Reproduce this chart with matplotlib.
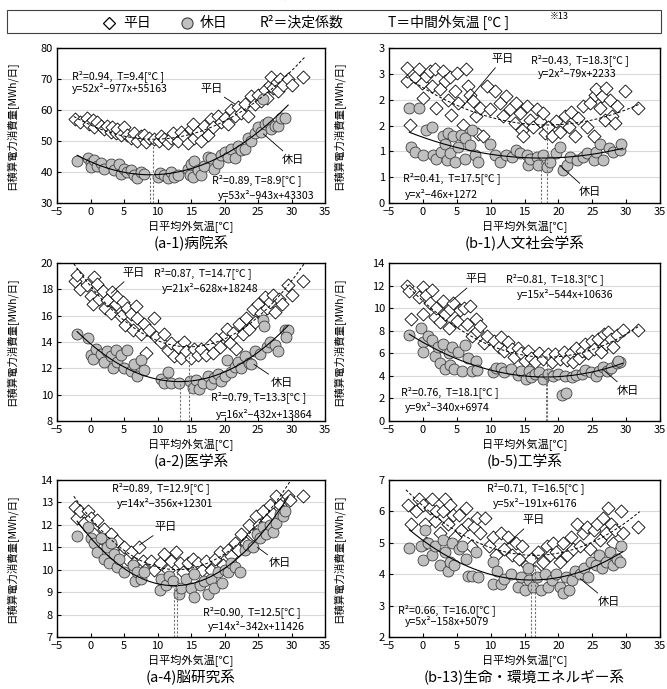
import numpy as np
import matplotlib.pyplot as plt
from matplotlib.patches import Rectangle
from matplotlib.lines import Line2D

plt.rcParams['font.family'] = ['Noto Sans CJK JP', 'DejaVu Sans']
plt.rcParams['font.size'] = 7.5

# ---- data: (outdoor temp [C], daily energy [MWh/day]) ----
a1_wd = [(-2.3, 57.2), (-1.5, 56), (-0.5, 57.5), (-0.2, 55.5), (0.3, 56.8), (0.5, 54.5), (1, 56), (1.5, 55),
         (2, 54), (2.5, 55), (3, 53), (3.2, 54.5), (3.8, 52.5), (4, 53.8), (4.5, 52), (5, 54.5), (5.5, 52),
         (6, 51), (6.5, 52.5), (7, 50), (7.5, 51.5), (8, 52), (8.3, 49.8), (8.8, 51), (9.5, 50.5), (10.2, 50),
         (10.5, 51.5), (11, 50.5), (11.5, 49.5), (12, 51), (12.3, 52.5), (13, 50), (13.5, 53), (14, 51.5),
         (14.5, 49.5), (15, 54), (15.3, 55.5), (15.5, 51), (16, 53), (16.5, 50), (17, 55), (17.5, 52), (18, 57),
         (18.3, 54.5), (19, 58), (19.5, 56), (20, 57.5), (20.5, 55.5), (21, 60), (21.5, 58), (22, 61), (22.5, 59),
         (23, 62), (23.5, 58), (24, 64.5), (24.5, 62), (25, 65), (25.5, 63), (26, 66.5), (26.3, 64), (26.8, 68),
         (27, 70.5), (27.3, 67), (27.8, 69), (28, 66), (28.3, 70), (28.7, 68), (29.5, 70), (30, 68), (31.7, 70.5)]
a1_hd = [(-2, 43.5), (-0.3, 44.5), (0, 43), (0, 41.5), (0.5, 44), (1, 42), (1.5, 43), (2, 41), (3, 42.5),
         (3.5, 40.5), (4.2, 42.5), (4.5, 39.5), (5, 41), (5.5, 40), (6, 40.5), (6.5, 39), (7, 38), (7.5, 40),
         (8, 39.5), (10, 38.5), (10.3, 39.8), (11, 39), (11.5, 38), (12, 40), (12.5, 38.5), (13, 39), (14.5, 41),
         (14.8, 39), (15, 42.5), (15.3, 38.5), (15.5, 43.5), (16, 40.5), (16.5, 39), (17, 42), (17.5, 45),
         (18, 44.5), (18.5, 41), (19, 43), (19.5, 45.5), (20, 46.5), (20.5, 45), (21, 47.5), (21.5, 44.5),
         (22, 48.5), (22.5, 47), (23, 47.5), (23.5, 51), (24, 50), (24.5, 52.5), (25, 54.5), (25.5, 53),
         (25.7, 63.5), (26, 55.5), (26.5, 56), (27, 54), (27.5, 55), (28, 55), (28.5, 57.5), (29, 57.5)]

b1_wd = [(-2.3, 2.62), (-2.4, 2.36), (-1.9, 1.51), (-1.2, 2.43), (-0.5, 2.59), (-0.2, 2.33), (0.0, 2.04),
         (0.5, 2.46), (1.0, 2.56), (1.3, 2.26), (1.8, 2.59), (2.0, 1.84), (2.5, 2.2), (3.0, 2.56), (3.2, 2.36),
         (3.7, 2.0), (4.0, 2.43), (4.2, 1.71), (4.7, 2.17), (5.0, 2.52), (5.2, 1.94), (5.9, 1.51), (6.4, 2.59),
         (6.7, 2.26), (6.9, 2.1), (7.4, 1.97), (7.9, 1.68), (8.2, 1.33), (8.4, 1.84), (8.9, 1.29), (9.4, 2.26),
         (9.9, 1.81), (10.6, 2.17), (11.4, 1.94), (11.9, 1.68), (12.3, 2.07), (12.8, 1.81), (13.6, 1.55),
         (13.8, 1.94), (14.3, 1.74), (14.6, 1.42), (14.8, 1.29), (15.3, 1.87), (15.8, 1.61), (16.3, 1.48),
         (16.8, 1.81), (17.3, 1.58), (17.8, 1.74), (18.0, 1.35), (18.5, 1.48), (19.0, 1.29), (19.7, 1.58),
         (20.2, 1.38), (21.0, 1.68), (21.5, 1.48), (21.9, 1.77), (22.4, 1.29), (22.9, 1.64), (23.7, 1.87),
         (24.2, 1.48), (24.7, 1.94), (25.2, 1.29), (25.4, 2.1), (25.6, 2.2), (26.1, 1.84), (26.4, 2.07),
         (26.9, 1.61), (27.1, 2.23), (27.6, 2.0), (27.9, 1.68), (28.4, 1.55), (28.6, 1.87), (29.8, 2.17), (31.8, 1.84)]
b1_hd = [(-2.1, 1.84), (-1.7, 1.09), (-1.2, 0.99), (-0.5, 1.84), (0.0, 0.93), (0.5, 1.42), (1.3, 1.48),
         (1.5, 0.93), (2.0, 0.86), (2.7, 0.99), (3.0, 1.29), (3.2, 1.15), (3.5, 0.83), (3.7, 1.35), (4.0, 0.96),
         (4.5, 1.29), (4.7, 0.8), (5.2, 1.09), (5.7, 1.32), (6.2, 1.25), (6.2, 0.86), (6.9, 1.12), (7.2, 1.42),
         (7.7, 0.93), (8.2, 0.8), (9.9, 1.15), (10.6, 0.93), (11.4, 0.8), (12.3, 0.93), (13.1, 0.89), (13.8, 1.02),
         (14.3, 0.96), (15.3, 0.93), (15.5, 0.73), (15.8, 0.86), (16.8, 0.89), (17.0, 0.73), (17.8, 0.93),
         (18.3, 0.7), (18.7, 0.8), (19.7, 0.96), (20.2, 1.09), (20.7, 0.63), (21.2, 0.73), (21.7, 0.89),
         (22.7, 0.83), (23.7, 0.89), (24.2, 0.96), (25.2, 0.83), (25.6, 0.99), (26.1, 1.15), (26.6, 0.83),
         (27.4, 1.06), (28.1, 0.99), (29.1, 1.02), (29.3, 1.15)]

a2_wd = [(-2.3, 18.6), (-2.0, 19.1), (-1.5, 18.0), (-0.5, 18.3), (0, 17.5), (0.3, 16.9), (0.5, 18.9), (1, 18.4),
         (1.3, 17.3), (1.8, 17.9), (2.2, 16.6), (2.5, 17.2), (3, 16.2), (3.2, 17.8), (3.8, 16.9), (4, 17.4),
         (4.5, 16.0), (4.8, 17.0), (5.2, 15.3), (5.5, 16.6), (6, 16.1), (6.3, 14.9), (6.8, 16.7), (7, 15.8),
         (7.5, 14.6), (8, 15.4), (8.3, 13.2), (8.7, 14.9), (9.5, 15.8), (9.8, 14.4), (10.5, 14.0), (11, 14.6),
         (11.5, 13.4), (12, 13.9), (12.5, 12.9), (13, 13.6), (13.5, 12.8), (14, 14.0), (14.3, 13.3), (15, 12.8),
         (15.5, 13.5), (16, 13.0), (16.5, 13.5), (17.3, 13.0), (17.8, 13.8), (18.3, 13.2), (18.8, 14.2),
         (19.3, 13.6), (20, 14.5), (20.4, 15.0), (20.8, 13.9), (21.3, 14.7), (21.7, 13.5), (22.2, 15.4),
         (22.7, 14.6), (23.2, 15.8), (23.7, 15.0), (24.2, 16.5), (24.6, 15.5), (25, 16.9), (25.5, 16.2),
         (26, 17.4), (26.4, 16.6), (26.8, 17.0), (27.2, 17.6), (27.6, 16.3), (28.2, 17.3), (28.6, 16.9),
         (29.5, 18.3), (30, 17.6), (31.7, 18.6)]
a2_hd = [(-2, 14.6), (-0.3, 14.3), (0, 13.0), (0.3, 12.7), (0.8, 13.5), (1.5, 13.1), (2, 12.5), (2.5, 13.3),
         (3, 12.9), (3.3, 12.0), (3.8, 13.4), (4, 12.5), (4.5, 13.0), (5, 12.0), (5.5, 13.4), (6, 11.8),
         (6.5, 12.3), (7, 11.4), (7.5, 12.6), (8, 11.9), (10.5, 11.2), (11, 10.9), (11.5, 11.7), (12, 10.9),
         (13.2, 10.9), (14.8, 11.0), (15.3, 10.5), (15.7, 11.1), (16.2, 10.4), (16.8, 10.9), (17.5, 11.4),
         (18, 10.8), (18.5, 11.3), (19, 11.6), (19.5, 11.0), (20, 11.4), (20.3, 12.6), (21, 11.7), (21.5, 12.1),
         (22, 12.5), (22.5, 12.0), (23, 12.9), (23.7, 12.4), (24, 12.3), (24.6, 13.3), (25.3, 13.1), (25.8, 15.7),
         (25.9, 15.2), (26.3, 13.6), (26.8, 14.0), (27.5, 13.8), (28, 13.3), (29, 14.9), (29.5, 14.9), (29.2, 14.4)]

b5_wd = [(-2.3, 12.0), (-2.0, 11.5), (-1.8, 9.0), (-0.5, 11.0), (0, 11.9), (0, 9.5), (0.5, 11.2), (1, 10.5),
         (1.3, 11.6), (1.8, 9.2), (2, 10.0), (2.5, 8.8), (3, 10.6), (3.3, 9.5), (3.8, 8.2), (4, 9.9), (4.5, 10.5),
         (5, 8.9), (5.5, 9.8), (6, 10.0), (6.5, 8.6), (7, 10.2), (7.2, 7.5), (7.8, 9.0), (8, 8.0), (8.5, 8.4),
         (9, 6.9), (9.5, 7.5), (10.5, 7.1), (11.2, 6.6), (11.5, 7.4), (12, 6.2), (12.5, 7.0), (13.2, 6.4),
         (13.5, 5.7), (14, 6.5), (14.5, 6.0), (15, 5.3), (15.5, 6.2), (16, 5.6), (16.5, 5.2), (17.2, 6.0),
         (17.8, 5.5), (18.5, 5.9), (19, 5.2), (19.5, 5.9), (20.2, 5.5), (20.8, 6.1), (21.3, 5.4), (21.8, 6.0),
         (22.2, 5.2), (22.6, 6.5), (23, 5.6), (23.5, 6.2), (24, 6.8), (24.4, 6.0), (24.9, 7.1), (25.3, 6.4),
         (25.8, 7.3), (26.3, 6.1), (26.7, 7.7), (27, 6.8), (27.3, 7.9), (27.8, 7.3), (28.1, 6.6), (28.6, 7.6),
         (29.6, 8.1), (31.7, 8.1)]
b5_hd = [(-2, 7.6), (-0.3, 8.2), (0, 7.0), (0, 6.1), (0.8, 7.5), (1.3, 7.2), (1.8, 5.8), (2.3, 6.6), (2.6, 5.1),
         (3, 6.8), (3.2, 4.6), (3.8, 6.0), (4, 5.0), (4.3, 6.6), (4.6, 4.6), (5.2, 6.1), (5.8, 4.4), (6.2, 6.7),
         (6.6, 5.6), (7.2, 4.4), (7.8, 5.3), (8, 4.5), (10.4, 4.3), (10.8, 4.7), (11.5, 4.7), (12, 4.3), (13, 4.6),
         (14, 4.1), (14.5, 4.4), (15.2, 3.7), (15.6, 4.4), (16, 3.9), (16.5, 4.2), (17.2, 4.3), (17.8, 3.7),
         (18.5, 4.2), (19.2, 4.0), (20, 4.2), (20.6, 2.3), (21.1, 2.5), (21, 4.0), (22, 3.9), (22.6, 4.1),
         (23.5, 4.2), (24, 4.5), (24.8, 4.3), (25.5, 4.0), (26, 4.4), (26.6, 4.8), (27.2, 4.4), (27.8, 4.7),
         (28.6, 5.1), (29.1, 5.2), (28.8, 5.3)]

a4_wd = [(-2.3, 12.8), (-2.0, 12.3), (-1.5, 12.6), (-1, 12.1), (-0.3, 12.6), (0, 12.3), (0.5, 11.6), (1, 12.2),
         (1.5, 11.4), (2, 11.8), (2.5, 11.3), (3, 11.6), (3.5, 11.0), (4, 11.3), (4.5, 10.7), (5, 11.0),
         (5.5, 10.5), (6, 10.8), (6.5, 10.3), (7.3, 11.0), (7.8, 10.4), (8.2, 10.0), (9, 10.4), (9.5, 10.0),
         (10.3, 10.3), (11, 10.7), (11.5, 10.0), (12, 10.4), (12.7, 10.8), (13.3, 10.3), (13.8, 9.9), (14.5, 10.3),
         (15.3, 10.5), (16, 10.3), (16.7, 10.0), (17.3, 10.4), (18, 10.0), (18.6, 10.5), (19.3, 10.8), (19.8, 10.2),
         (20.5, 10.9), (21, 10.6), (21.5, 11.2), (22, 10.9), (22.5, 11.6), (23.2, 11.2), (23.6, 12.0), (24.2, 11.6),
         (24.7, 12.4), (25.2, 12.0), (25.8, 12.6), (26.3, 12.2), (26.8, 12.9), (27.3, 12.5), (27.7, 13.3),
         (28.3, 12.9), (28.7, 12.6), (29.5, 13.3), (29.8, 13.1), (31.7, 13.3)]
a4_hd = [(-2, 11.5), (-0.3, 11.9), (0, 11.4), (0.5, 11.2), (1, 10.8), (1.5, 11.4), (2, 10.5), (2.5, 11.0),
         (2.8, 10.3), (3, 11.2), (3.5, 10.7), (4, 10.1), (4.3, 10.5), (5, 9.9), (6.3, 10.2), (6.7, 9.5), (7, 9.9),
         (7.5, 9.6), (8, 9.9), (10.3, 9.1), (10.5, 9.6), (11.3, 9.3), (11.7, 9.7), (12.3, 9.5), (13.2, 8.9),
         (13.5, 9.2), (14.3, 9.6), (15, 9.2), (15.5, 8.8), (15.5, 9.8), (16.3, 9.3), (17, 9.5), (17.5, 8.9),
         (18, 9.6), (18.5, 9.2), (19, 9.9), (19.6, 9.4), (20, 10.0), (20.5, 9.9), (21, 10.3), (21.5, 10.1),
         (22.3, 9.9), (23, 10.9), (23.5, 11.1), (24.3, 11.0), (24.8, 11.6), (25.3, 11.4), (25.8, 11.9),
         (26.2, 11.6), (26.8, 12.0), (27.3, 11.7), (27.7, 12.1), (28.3, 12.5), (28.8, 12.4), (29, 12.6)]

b13_wd = [(-2.2, 6.2), (-1.8, 5.6), (-1, 6.0), (-0.5, 6.4), (0, 6.2), (0.3, 5.6), (0.5, 5.0), (1, 6.1), (1.3, 6.4),
          (1.8, 5.7), (2, 6.0), (2.5, 5.3), (3, 6.0), (3.2, 6.4), (3.7, 5.6), (4, 6.2), (4.5, 5.9), (4.8, 5.2),
          (5.3, 5.9), (5.7, 5.4), (6.3, 6.1), (6.6, 5.6), (7.1, 4.9), (7.5, 5.5), (8, 5.8), (8.5, 5.3), (9.2, 5.8),
          (9.7, 4.9), (10.3, 5.2), (10.8, 4.6), (11.5, 5.3), (12, 4.8), (12.6, 5.2), (13.2, 4.6), (13.8, 5.0),
          (14.2, 4.5), (14.7, 4.9), (15.3, 4.3), (16, 4.5), (16.5, 4.1), (17, 4.7), (17.7, 4.4), (18.3, 4.9),
          (18.7, 4.6), (19.2, 5.0), (19.7, 4.7), (20.3, 4.4), (20.7, 5.0), (21.2, 4.6), (21.8, 5.2), (22.2, 4.8),
          (22.7, 5.6), (23.2, 4.9), (23.7, 5.3), (24.2, 5.5), (24.6, 4.8), (25.2, 5.4), (25.7, 5.6), (26.2, 5.1),
          (26.6, 5.8), (27.1, 5.3), (27.3, 6.1), (27.7, 5.6), (28, 5.0), (28.4, 5.4), (29.3, 6.0), (29.6, 5.3),
          (31.7, 5.5)]
b13_hd = [(-2, 4.85), (-0.3, 4.9), (0, 4.45), (0.3, 5.4), (0.8, 5.0), (1.3, 4.6), (1.8, 4.9), (2.5, 4.3), (3, 5.1),
          (3.3, 4.7), (3.7, 4.1), (4, 4.4), (4.3, 5.0), (4.6, 4.3), (5.3, 4.8), (5.8, 4.9), (6.3, 4.5), (6.6, 3.95),
          (7.3, 3.95), (7.8, 4.7), (8.2, 3.9), (10.3, 4.4), (10.3, 3.7), (11, 4.1), (11.5, 3.7), (12, 3.85),
          (13, 4.0), (14, 3.6), (14.5, 3.9), (15, 3.5), (15.5, 4.2), (15.7, 3.8), (16.3, 3.6), (16.8, 3.9),
          (17.5, 3.5), (18, 4.0), (18.5, 3.6), (19.1, 3.8), (19.6, 4.0), (20.2, 3.6), (20.7, 3.4), (21.1, 3.9),
          (21.5, 3.5), (22, 3.8), (22.5, 4.1), (23.2, 4.0), (23.8, 4.2), (24.3, 3.9), (24.8, 4.4), (25.5, 4.3),
          (26, 4.6), (26.4, 4.2), (27, 4.4), (27.6, 4.7), (28.1, 4.3), (28.7, 4.5), (29.2, 4.9), (29.1, 4.4)]

# fitted quadratics as printed on the chart (kWh): b, c, T  (a = -b / 2T)
eq_wd = {'a1': (-977, 55163, 9.4), 'b1': (-79, 2233, 18.3), 'a2': (-628, 18248, 14.7),
         'b5': (-544, 10636, 18.3), 'a4': (-356, 12301, 12.9), 'b13': (-191, 6176, 16.5)}
eq_hd = {'a1': (-943, 43303, 8.9), 'b1': (-46, 1272, 17.5), 'a2': (-432, 13864, 13.3),
         'b5': (-340, 6974, 18.1), 'a4': (-342, 11426, 12.5), 'b13': (-158, 5079, 16.0)}

fig = plt.figure(figsize=(6.67, 6.89), dpi=100)
W, H = 667, 689

def fit(b, c, T, x):
    a = -b / (2 * T)
    return (a * x ** 2 + b * x + c) / 1000.0

def panel(pos, key, wd, hd, ylim, ystep, title, txt_wd, txt_hd, lab_wd, lab_hd, ylab_x, ylabels=None):
    ax = fig.add_axes(pos)
    wd = np.array(wd).T
    hd = np.array(hd).T
    ax.scatter(wd[0], wd[1], marker='D', s=44, facecolor='white', edgecolor='black', linewidth=0.6, zorder=3)
    ax.scatter(hd[0], hd[1], marker='o', s=62, facecolor='#c0c0c0', edgecolor='#404040', linewidth=0.6, zorder=4)
    xs = np.linspace(-2.5, 32, 200)
    ax.plot(xs, fit(*eq_wd[key], xs), color='black', lw=0.7, ls=(0, (3, 2)), zorder=5)
    xs = np.linspace(-2, 29.5, 200)
    ax.plot(xs, fit(*eq_hd[key], xs), color='black', lw=0.8, zorder=5)
    for b, c, T in (eq_wd[key], eq_hd[key]):
        ax.plot([T, T], [ylim[0], fit(b, c, T, T)], color='#707070', lw=0.8, ls=(0, (2, 1.5)), zorder=5)
    ax.set_xlim(-5, 35)
    ax.set_ylim(*ylim)
    ax.set_xticks(np.arange(-5, 36, 5))
    yt = np.arange(ylim[0], ylim[1] + ystep / 2, ystep)
    ax.set_yticks(yt)
    if ylabels is not None:
        ax.set_yticklabels(ylabels)
    ax.grid(axis='y', color='#d9d9d9', lw=0.8, zorder=0)
    ax.set_axisbelow(True)
    ax.tick_params(direction='in', length=3, width=0.8, labelsize=8, pad=3)
    for s in ax.spines.values():
        s.set_linewidth(1.0)
    ax.set_ylabel('日積算電力消費量[MWh/日]', fontsize=7.5)
    ax.yaxis.set_label_coords(ylab_x, 0.5)
    ax.annotate('日平均外気温[℃]', xy=(0.5, 0), xycoords='axes fraction', xytext=(0, -24 * 0.72),
                textcoords='offset points', ha='center', va='center', fontsize=8)
    ax.annotate(title, xy=(0.5, 0), xycoords='axes fraction', xytext=(0, -40 * 0.72),
                textcoords='offset points', ha='center', va='center', fontsize=10.5)
    for (x, y, s) in txt_wd + txt_hd:
        ax.text(x, y, s, ha='left', va='center', fontsize=7.6, zorder=6)
    for (s, tx, ty, px, py) in (lab_wd, lab_hd):
        ax.annotate(s, xy=(px, py), xytext=(tx, ty), ha='center', va='center', fontsize=8,
                    arrowprops=dict(arrowstyle='-', lw=0.6, color='black', shrinkA=1, shrinkB=0), zorder=6)
    return ax

L = (57 / W, 268 / W)
R = (389 / W, 271 / W)
rows = [(1 - 203 / H, 155 / H), (1 - 421 / H, 158 / H), (1 - 637 / H, 157 / H)]

panel([L[0], rows[0][0], L[1], rows[0][1]], 'a1', a1_wd, a1_hd, (30, 80), 10, '(a-1)病院系',
      [(-2.8, 71.0, 'R²=0.94,  T=9.4[℃ ]'), (-2.8, 66.8, 'y=52x²−977x+55163')],
      [(18.2, 37.5, 'R²=0.89, T=8.9[℃ ]'), (19.0, 32.5, 'y=53x²−943x+43303')],
      ('平日', 18.0, 66.9, 21.5, 62.0), ('休日', 30.2, 44.0, 25.8, 52.3), -0.146)

panel([R[0], rows[0][0], R[1], rows[0][1]], 'b1', b1_wd, b1_hd, (0, 3), 0.5, '(b-1)人文社会学系',
      [(16.0, 2.77, 'R²=0.43,  T=18.3[℃ ]'), (17.0, 2.5, 'y=2x²−79x+2233')],
      [(-2.9, 0.48, 'R²=0.41,  T=17.5[℃ ]'), (-2.7, 0.17, 'y=x²−46x+1272')],
      ('平日', 11.8, 2.79, 5.9, 1.87), ('休日', 24.6, 0.21, 20.2, 0.73), -0.162,
      ylabels=['0', '1', '1', '2', '2', '3', '3'])

panel([L[0], rows[1][0], L[1], rows[1][1]], 'a2', a2_wd, a2_hd, (8, 20), 2, '(a-2)医学系',
      [(9.5, 19.24, 'R²=0.87,  T=14.7[℃ ]'), (10.65, 18.1, 'y=21x²−628x+18248')],
      [(18.0, 9.83, 'R²=0.79, T=13.3[℃ ]'), (18.7, 8.48, 'y=16x²−432x+13864')],
      ('平日', 6.45, 19.24, 3.1, 17.7), ('休日', 28.5, 10.9, 24.4, 12.3), -0.146)

panel([R[0], rows[1][0], R[1], rows[1][1]], 'b5', b5_wd, b5_hd, (0, 14), 2, '(b-5)工学系',
      [(12.3, 12.55, 'R²=0.81,  T=18.3[℃ ]'), (13.8, 11.2, 'y=15x²−544x+10636')],
      [(-3.2, 2.53, 'R²=0.76,  T=18.1[℃ ]'), (-2.7, 1.19, 'y=9x²−340x+6974')],
      ('平日', 8.0, 12.55, 4.0, 10.5), ('休日', 30.2, 2.7, 26.5, 4.6), -0.162)

panel([L[0], rows[2][0], L[1], rows[2][1]], 'a4', a4_wd, a4_hd, (7, 14), 1, '(a-4)脳研究系',
      [(3.2, 13.63, 'R²=0.89,  T=12.9[℃ ]'), (3.95, 12.96, 'y=14x²−356x+12301')],
      [(16.8, 8.12, 'R²=0.90,  T=12.5[℃ ]'), (17.5, 7.45, 'y=14x²−342x+11426')],
      ('平日', 11.2, 11.9, 7.3, 11.1), ('休日', 28.2, 10.28, 24.9, 11.0), -0.146)

panel([R[0], rows[2][0], R[1], rows[2][1]], 'b13', b13_wd, b13_hd, (2, 7), 1, '(b-13)生命・環境エネルギー系',
      [(9.4, 6.73, 'R²=0.71,  T=16.5[℃ ]'), (10.4, 6.26, 'y=5x²−191x+6176')],
      [(-3.7, 2.85, 'R²=0.66,  T=16.0[℃ ]'), (-2.7, 2.48, 'y=5x²−158x+5079')],
      ('平日', 16.3, 5.72, 12.3, 4.93), ('休日', 27.4, 3.12, 23.2, 3.86), -0.162)

# header: cut-off caption (only its lower edge shows) and legend box
fig.text(300 / W, 1 + 2 / H, '日平均外気温との関係', ha='center', va='baseline', fontsize=12.5, fontweight='bold')
fig.add_artist(Rectangle((7 / W, 1 - 33 / H), 654 / W, 23 / H, transform=fig.transFigure,
                         fill=False, lw=0.8, ec='#404040'))
yl = 1 - 22.5 / H
fig.add_artist(Line2D([109 / W], [yl], marker='D', ms=6, mfc='white', mec='black', mew=0.9,
                      transform=fig.transFigure))
fig.text(123 / W, yl, '平日', va='center', fontsize=10)
fig.add_artist(Line2D([187 / W], [yl], marker='o', ms=8, mfc='#c0c0c0', mec='#404040', mew=0.8,
                      transform=fig.transFigure))
fig.text(200 / W, yl, '休日', va='center', fontsize=10)
fig.text(260 / W, yl, 'R²＝決定係数', va='center', fontsize=10)
fig.text(388 / W, yl, 'T＝中間外気温 [℃ ]', va='center', fontsize=10)
fig.text(550 / W, yl + 6 / H, '※13', va='center', fontsize=6.5)

fig.savefig('out.png', dpi=100)
